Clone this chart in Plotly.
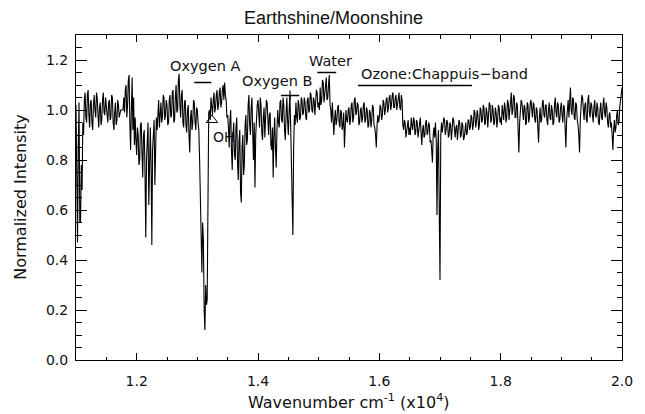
import numpy as np
import plotly.graph_objects as go

# Spectrum sampled every 0.00125 (x10^4 cm^-1) starting at 1.10; one list per 0.05 span
wn_start = 1.10
wn_step = 0.00125

seg_110 = [1.02, 0.60, 0.47, 0.85, 1.03, 0.55, 0.55, 0.78, 0.68, 0.95,
           0.90, 1.04, 1.07, 0.97, 0.95, 1.06, 1.08, 0.98, 0.93, 1.03,
           1.04, 0.95, 0.92, 1.02, 1.06, 1.00, 0.97, 1.07, 1.05, 0.98,
           0.93, 1.01, 1.03, 0.94, 0.96, 1.04, 1.07, 0.99, 0.98, 1.05]
seg_115 = [1.02, 0.97, 0.95, 1.03, 1.04, 0.96, 0.97, 1.06, 1.05, 0.95,
           0.92, 0.99, 1.03, 0.94, 0.96, 1.04, 1.02, 0.97, 0.99, 1.00,
           1.00, 1.00, 1.00, 1.05, 0.99, 1.08, 1.10, 0.97, 1.02, 1.12,
           1.14, 0.95, 0.84, 1.00, 1.13, 0.92, 1.05, 0.86, 0.97, 0.88]
seg_120 = [0.82, 0.93, 0.90, 0.78, 0.80, 0.94, 0.95, 0.83, 0.73, 0.90,
           0.92, 0.75, 0.49, 0.80, 0.88, 0.95, 0.62, 0.85, 0.93, 0.78,
           0.46, 0.84, 0.90, 0.96, 0.70, 0.88, 0.97, 0.92, 1.00, 1.04,
           0.93, 0.98, 1.03, 0.95, 0.97, 1.06, 1.05, 0.96, 0.98, 1.04]
seg_125 = [1.02, 0.94, 0.95, 1.04, 1.06, 0.97, 0.98, 1.07, 1.08, 0.95,
           0.96, 1.05, 1.10, 0.99, 1.00, 1.12, 1.145, 1.02, 0.97, 1.06,
           1.08, 0.95, 0.93, 1.03, 1.04, 0.94, 0.91, 1.00, 1.02, 0.90,
           0.83, 0.97, 1.00, 0.92, 0.95, 1.04, 1.03, 0.95, 0.92, 1.01]
seg_130 = [1.00, 0.95, 0.92, 0.80, 0.62, 0.40, 0.35, 0.55, 0.48, 0.20,
           0.12, 0.30, 0.22, 0.24, 0.95, 0.99, 1.00, 0.96, 1.05, 1.00,
           0.98, 1.04, 1.07, 0.99, 1.01, 1.06, 1.08, 1.00, 1.02, 1.07,
           1.09, 1.01, 1.03, 1.08, 1.10, 1.04, 1.11, 1.06, 1.04, 0.97]
seg_135 = [0.98, 0.93, 0.85, 0.96, 1.00, 0.84, 0.76, 0.90, 0.95, 0.82,
           0.80, 0.93, 0.97, 0.79, 0.72, 0.88, 0.92, 0.67, 0.63, 0.85,
           0.90, 0.74, 0.78, 0.94, 0.98, 0.86, 0.88, 1.02, 1.06, 0.94,
           0.90, 1.01, 1.05, 0.92, 0.80, 0.95, 0.69, 0.90, 0.97, 1.02]
seg_140 = [1.04, 0.96, 0.93, 1.05, 1.02, 0.91, 0.88, 0.97, 1.01, 0.89,
           0.94, 1.04, 1.03, 0.92, 0.90, 0.98, 0.99, 0.86, 0.84, 0.93,
           0.73, 0.90, 0.97, 0.85, 0.77, 0.92, 1.00, 0.95, 0.93, 1.03,
           1.04, 0.96, 0.95, 1.05, 1.02, 0.92, 0.88, 0.98, 1.05, 0.96]
seg_145 = [0.90, 0.99, 1.06, 0.95, 0.82, 0.70, 0.50, 0.85, 0.98, 0.94,
           1.03, 0.97, 0.95, 1.04, 1.02, 0.96, 0.97, 1.05, 1.04, 0.98,
           0.99, 1.05, 1.03, 0.97, 0.96, 1.04, 1.05, 0.99, 1.00, 1.07,
           1.06, 1.00, 0.99, 1.05, 1.04, 0.98, 1.02, 1.08, 1.07, 1.01]
seg_150 = [1.03, 1.00, 1.09, 1.02, 1.04, 1.12, 1.11, 1.03, 1.06, 1.10,
           1.13, 1.04, 1.05, 1.10, 1.14, 1.02, 1.00, 0.95, 1.03, 0.97,
           0.90, 0.96, 1.00, 0.94, 0.96, 1.01, 1.02, 0.95, 0.93, 1.00,
           0.99, 0.92, 0.94, 0.99, 0.85, 0.93, 1.00, 0.96, 0.95, 1.00]
seg_155 = [1.01, 0.94, 0.96, 1.02, 1.03, 0.95, 0.97, 1.04, 1.05, 0.98,
           0.99, 1.03, 1.02, 0.94, 0.95, 1.00, 1.01, 0.95, 0.97, 1.02,
           1.03, 0.95, 0.96, 1.01, 1.00, 0.93, 0.94, 1.00, 0.99, 0.93,
           0.96, 1.02, 1.01, 0.94, 0.93, 0.90, 0.85, 0.94, 0.98, 0.95]
seg_160 = [0.97, 1.02, 1.01, 0.96, 0.98, 1.04, 1.03, 0.98, 1.00, 1.04,
           1.05, 0.99, 1.01, 1.05, 1.06, 1.00, 1.02, 1.06, 1.07, 1.01,
           1.01, 1.05, 1.06, 1.00, 1.03, 1.06, 1.07, 1.01, 1.00, 1.06,
           1.04, 0.94, 0.92, 0.96, 0.95, 0.89, 0.91, 0.95, 0.96, 0.90]
seg_165 = [0.93, 0.90, 0.97, 0.94, 0.92, 0.97, 0.96, 0.90, 0.91, 0.96,
           0.95, 0.89, 0.92, 0.96, 0.97, 0.91, 0.86, 0.92, 0.94, 0.89,
           0.90, 0.95, 0.96, 0.90, 0.91, 0.95, 0.94, 0.87, 0.88, 0.84,
           0.79, 0.90, 0.93, 0.89, 0.95, 0.88, 0.58, 0.85, 0.92, 0.60]
seg_170 = [0.32, 0.90, 0.95, 0.91, 0.93, 0.97, 0.96, 0.90, 0.92, 0.96,
           0.95, 0.89, 0.90, 0.95, 0.94, 0.88, 0.92, 0.97, 0.96, 0.90,
           0.89, 0.93, 0.94, 0.88, 0.91, 0.96, 0.95, 0.89, 0.90, 0.95,
           0.94, 0.88, 0.89, 0.94, 0.95, 0.90, 0.91, 0.96, 0.96, 0.92]
seg_175 = [0.93, 0.98, 0.97, 0.92, 0.94, 1.00, 0.99, 0.93, 0.95, 1.00,
           0.98, 0.92, 0.94, 1.01, 1.00, 0.95, 0.96, 1.02, 1.01, 0.94,
           0.95, 1.01, 0.99, 0.93, 0.97, 1.03, 1.02, 0.95, 0.96, 1.02,
           1.00, 0.94, 0.95, 1.01, 0.99, 0.93, 0.96, 1.02, 1.01, 0.95]
seg_180 = [0.97, 0.94, 1.02, 0.99, 0.96, 1.03, 1.01, 0.95, 0.97, 1.04,
           1.03, 0.96, 0.99, 1.04, 1.07, 0.98, 1.00, 1.06, 1.05, 0.97,
           0.97, 1.03, 1.02, 0.92, 0.83, 0.95, 0.99, 1.04, 1.03, 0.97,
           0.96, 1.02, 1.01, 0.94, 0.95, 1.03, 1.02, 0.95, 0.97, 1.03]
seg_185 = [1.04, 1.00, 0.97, 1.03, 1.02, 0.96, 0.95, 1.01, 1.00, 0.93,
           0.87, 0.97, 1.01, 0.95, 0.96, 1.03, 1.04, 0.98, 0.97, 1.02,
           1.02, 0.96, 0.94, 1.00, 1.03, 0.97, 0.96, 1.02, 1.00, 0.94,
           0.95, 1.02, 1.05, 0.99, 0.97, 1.03, 1.02, 0.95, 0.96, 1.01]
seg_190 = [1.03, 0.98, 0.95, 1.02, 1.01, 0.93, 0.85, 0.96, 1.02, 1.04,
           0.97, 1.03, 1.09, 1.00, 0.98, 1.05, 1.04, 0.97, 0.96, 1.03,
           1.02, 0.96, 0.94, 0.90, 0.83, 0.96, 1.00, 1.06, 1.05, 0.98,
           0.96, 1.02, 1.03, 0.96, 0.95, 1.04, 1.06, 0.99, 0.97, 1.03]
seg_195 = [1.02, 0.98, 0.95, 1.01, 1.04, 0.98, 0.97, 1.03, 1.01, 0.95,
           0.94, 1.00, 1.03, 0.97, 0.96, 1.02, 1.05, 0.99, 0.97, 1.03,
           1.01, 0.95, 0.93, 0.98, 0.99, 0.93, 0.95, 0.90, 0.84, 0.92,
           0.96, 0.91, 0.93, 0.98, 1.00, 0.94, 0.95, 1.01, 1.03, 1.05,
           1.09]

intensity = (seg_110 + seg_115 + seg_120 + seg_125 + seg_130 + seg_135 +
             seg_140 + seg_145 + seg_150 + seg_155 + seg_160 + seg_165 +
             seg_170 + seg_175 + seg_180 + seg_185 + seg_190 + seg_195)
wavenumber = wn_start + wn_step * np.arange(len(intensity))

# Band labels: text, text position, bar extent and height
band_names = ["Oxygen A", "Oxygen B", "Water", "Ozone:Chappuis\u2212band"]
band_text_x = [1.3133, 1.4308, 1.5188, 1.7074]
band_text_y = [1.178, 1.118, 1.195, 1.145]
band_bar_x0 = [1.295, 1.4377, 1.4977, 1.5649]
band_bar_x1 = [1.323, 1.4679, 1.5289, 1.7526]
band_bar_y = [1.11, 1.058, 1.15, 1.098]

oh_x = [1.324]
oh_y = [0.96]

x_ticks = [1.2, 1.4, 1.6, 1.8, 2.0]
y_ticks = [0.0, 0.2, 0.4, 0.6, 0.8, 1.0, 1.2]

FONT = "DejaVu Sans"

fig = go.Figure()
fig.add_trace(go.Scatter(x=wavenumber, y=intensity, mode="lines",
                         line=dict(color="black", width=1.1), showlegend=False,
                         hoverinfo="skip"))
fig.add_trace(go.Scatter(x=oh_x, y=oh_y, mode="markers",
                         marker=dict(symbol="triangle-up-open", size=10,
                                     color="black", line=dict(width=1)),
                         showlegend=False))

for i, name in enumerate(band_names):
    fig.add_shape(type="line", x0=band_bar_x0[i], x1=band_bar_x1[i],
                  y0=band_bar_y[i], y1=band_bar_y[i],
                  line=dict(color="black", width=1.5))
    fig.add_annotation(x=band_text_x[i], y=band_text_y[i], text=name,
                       showarrow=False, font=dict(family=FONT, size=14.5, color="#111"),
                       xanchor="center", yanchor="middle")

# vertical stroke of the Oxygen B "+" marker
mid_b = (band_bar_x0[1] + band_bar_x1[1]) / 2
fig.add_shape(type="line", x0=mid_b, x1=mid_b, y0=band_bar_y[1] - 0.02,
              y1=band_bar_y[1] + 0.02, line=dict(color="black", width=1.2))

fig.add_annotation(x=oh_x[0] - 0.002, y=0.894, text="OH", showarrow=False,
                   font=dict(family=FONT, size=14, color="#111"),
                   xanchor="left", yanchor="middle")

fig.add_annotation(x=0.471, y=1.0, xref="paper", yref="paper",
                   text="Earthshine/Moonshine", showarrow=False,
                   font=dict(family="Liberation Sans", size=18, color="#111"),
                   xanchor="center", yanchor="bottom", yshift=5)
fig.add_annotation(x=-0.102, y=0.5, xref="paper", yref="paper",
                   text="Normalized Intensity", showarrow=False, textangle=-90,
                   font=dict(family=FONT, size=16, color="#111"),
                   xanchor="center", yanchor="middle")
fig.add_annotation(x=0.5, y=0, xref="paper", yref="paper",
                   text="Wavenumber cm<sup>-1</sup> (x10<sup>4</sup>)", showarrow=False,
                   font=dict(family=FONT, size=16, color="#111"),
                   xanchor="center", yanchor="top", yshift=-29)

fig.update_xaxes(range=[1.1, 2.0], tickvals=x_ticks, tickformat=".1f",
                 ticks="inside", ticklen=7, tickcolor="black", tickwidth=1,
                 minor=dict(tickmode="linear", tick0=1.1, dtick=0.05, ticks="inside",
                            ticklen=3.5, tickcolor="black", tickwidth=1),
                 showline=True, linecolor="black", linewidth=1, mirror="ticks",
                 showgrid=False, zeroline=False,
                 tickfont=dict(family=FONT, size=14, color="#111"),
                 ticklabelstandoff=8)
fig.update_yaxes(range=[0, 1.3], tickvals=y_ticks, tickformat=".1f",
                 ticks="inside", ticklen=11, tickcolor="black", tickwidth=1,
                 minor=dict(tickmode="linear", tick0=0, dtick=0.05, ticks="inside",
                            ticklen=5.5, tickcolor="black", tickwidth=1),
                 showline=True, linecolor="black", linewidth=1, mirror="ticks",
                 showgrid=False, zeroline=False,
                 tickfont=dict(family=FONT, size=14, color="#111"),
                 ticklabelstandoff=4)

fig.update_layout(width=645, height=414,
                  margin=dict(l=76, r=21, t=35, b=54),
                  paper_bgcolor="white", plot_bgcolor="white",
                  showlegend=False)

fig.write_html("out.html", config={"displayModeBar": False},
               post_script="document.body.style.margin='0';document.body.style.padding='0';")
